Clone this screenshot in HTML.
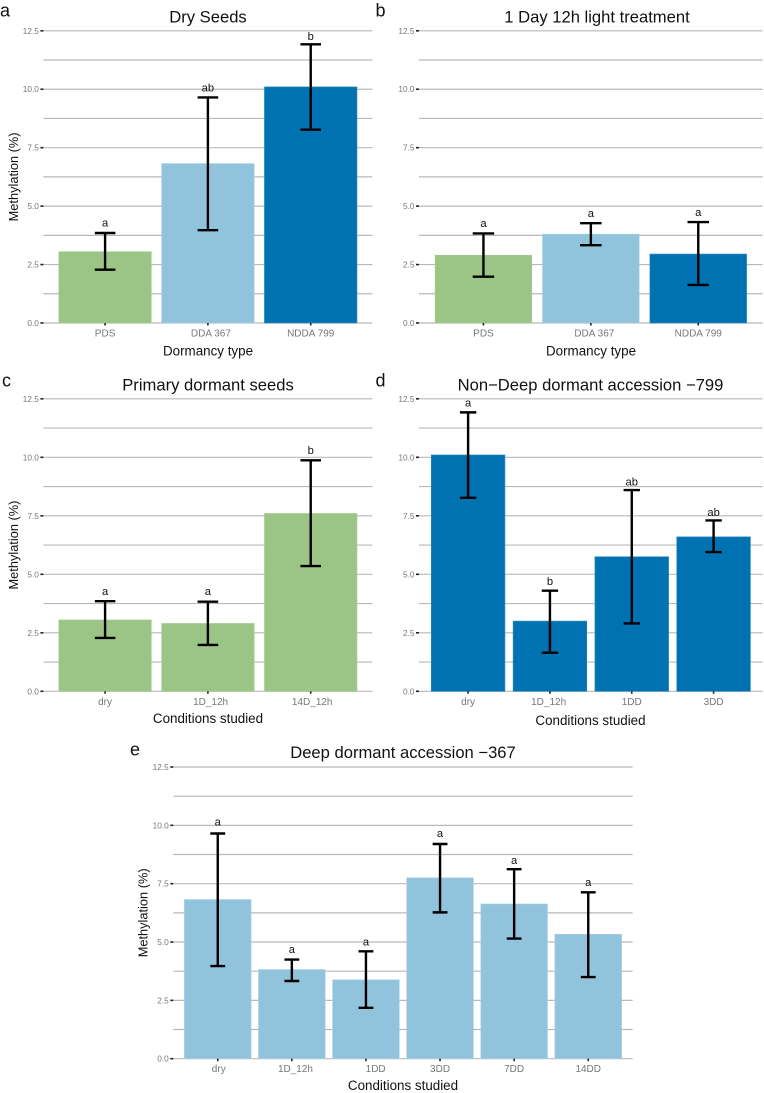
<!DOCTYPE html>
<html lang="en">
<head>
<meta charset="utf-8">
<title>Methylation by dormancy type and condition</title>
<style>
html,body{margin:0;padding:0;background:#fff;}
svg{display:block;font-family:"Liberation Sans",Arial,sans-serif;}
</style>
</head>
<body>
<svg id="figure" width="764" height="1093" viewBox="0 0 764 1093" xmlns="http://www.w3.org/2000/svg"></svg>
<script>
// Shared axis values
const yTickLabels = ["0.0", "2.5", "5.0", "7.5", "10.0", "12.5"];
const yTickValues = [0, 2.5, 5, 7.5, 10, 12.5];
const yGridValues = [0, 1.25, 2.5, 3.75, 5, 6.25, 7.5, 8.75, 10, 11.25, 12.5];

// Panel a
const aCategories = ["PDS", "DDA 367", "NDDA 799"];
const aValues = [3.05, 6.82, 10.1];
const aLow = [2.28, 3.97, 8.27];
const aHigh = [3.85, 9.65, 11.92];
const aLetters = ["a", "ab", "b"];
const aLetterLevels = [4.12, 9.9, 12.1];
const aGroups = ["pds", "dda", "ndda"];

// Panel b
const bCategories = ["PDS", "DDA 367", "NDDA 799"];
const bValues = [2.9, 3.8, 2.95];
const bLow = [1.98, 3.33, 1.63];
const bHigh = [3.83, 4.27, 4.32];
const bLetters = ["a", "a", "a"];
const bLetterLevels = [4.1, 4.53, 4.58];
const bGroups = ["pds", "dda", "ndda"];

// Panel c
const cCategories = ["dry", "1D_12h", "14D_12h"];
const cValues = [3.05, 2.9, 7.6];
const cLow = [2.28, 1.98, 5.35];
const cHigh = [3.85, 3.83, 9.87];
const cLetters = ["a", "a", "b"];
const cLetterLevels = [4.12, 4.12, 10.15];
const cGroups = ["pds", "pds", "pds"];

// Panel d
const dCategories = ["dry", "1D_12h", "1DD", "3DD"];
const dValues = [10.1, 3.0, 5.75, 6.6];
const dLow = [8.27, 1.65, 2.9, 5.95];
const dHigh = [11.92, 4.3, 8.6, 7.3];
const dLetters = ["a", "b", "ab", "ab"];
const dLetterLevels = [12.17, 4.55, 8.79, 7.5];
const dGroups = ["ndda", "ndda", "ndda", "ndda"];

// Panel e
const eCategories = ["dry", "1D_12h", "1DD", "3DD", "7DD", "14DD"];
const eValues = [6.82, 3.82, 3.38, 7.75, 6.63, 5.33];
const eLow = [3.97, 3.33, 2.18, 6.27, 5.15, 3.5];
const eHigh = [9.65, 4.25, 4.6, 9.2, 8.12, 7.13];
const eLetters = ["a", "a", "a", "a", "a", "a"];
const eLetterLevels = [10.0, 4.53, 4.85, 9.5, 8.35, 7.4];
const eGroups = ["dda", "dda", "dda", "dda", "dda", "dda"];

const groupColors = {pds: "#9BC585", dda: "#92C3DD", ndda: "#0072B2"};
const groupEdges = {pds: "#A9CE96", dda: "#A6D0E5", ndda: "#2A8AC0"};

const svgNS = "http://www.w3.org/2000/svg";
const figure = document.getElementById("figure");

function draw(parent, tag, props, text) {
  const node = document.createElementNS(svgNS, tag);
  for (const key in props) node.setAttribute(key, props[key]);
  if (text !== undefined) node.textContent = text;
  parent.appendChild(node);
  return node;
}

function renderPanel(cfg) {
  const group = draw(figure, "g", {});
  
  

  const n = cfg.categories.length;
  const yScale = v => cfg.y0 + (cfg.yTop - cfg.y0) * v / 12.5;
  const step = (cfg.right - cfg.left) / (n + 0.2);
  const xScale = i => cfg.left + step * (0.6 + i);
  const barWidth = step * 0.9;
  const capHalf = step * 0.1;

  const tag = draw(group, "text", {x: cfg.tagX, y: cfg.tagY, "font-size": 18, fill: "#111"}, cfg.id);
  
  

  const title = draw(group, "text", {x: cfg.titleX, y: cfg.titleY, "font-size": 16.6, fill: "#111", "text-anchor": "middle"}, cfg.title);
  
  

  yGridValues.forEach(function (v) {
    const line = draw(group, "line", {x1: cfg.left, x2: cfg.right, y1: yScale(v), y2: yScale(v), stroke: "#b9b9b9", "stroke-width": 1.2});
    
    
  });

  yTickValues.forEach(function (v, i) {
    const tick = draw(group, "line", {x1: cfg.left - 3, x2: cfg.left, y1: yScale(v), y2: yScale(v), stroke: "#222", "stroke-width": 1.6});
    
    
    const label = draw(group, "text", {x: cfg.left - 4.5, y: yScale(v) + 3, "font-size": 8.3, fill: "#777", "text-anchor": "end"}, yTickLabels[i]);
    
    
  });

  cfg.categories.forEach(function (cat, i) {
    const cx = xScale(i);
    const top = yScale(cfg.values[i]);
    const bar = draw(group, "rect", {x: cx - barWidth / 2, y: top, width: barWidth, height: cfg.y0 - top, fill: groupColors[cfg.groups[i]], stroke: groupEdges[cfg.groups[i]], "stroke-width": 0.6});
    
    
  });

  cfg.categories.forEach(function (cat, i) {
    const cx = xScale(i);
    const tick = draw(group, "line", {x1: cx, x2: cx, y1: cfg.y0, y2: cfg.y0 + 2.5, stroke: "#222", "stroke-width": 1.6});
    
    

    const label = draw(group, "text", {x: cx + (cfg.labelNudge[i] || 0), y: cfg.y0 + 13.5, "font-size": 10, fill: "#777", "text-anchor": "middle"}, cat);
    
    

    const yLow = yScale(cfg.low[i]);
    const yHigh = yScale(cfg.high[i]);
    const err = draw(group, "path", {
      d: "M" + (cx - capHalf) + " " + yHigh + "H" + (cx + capHalf) + "M" + cx + " " + yHigh + "V" + yLow + "M" + (cx - capHalf) + " " + yLow + "H" + (cx + capHalf),
      fill: "none", stroke: "#000", "stroke-width": 2.4
    });
    
    

    const letter = draw(group, "text", {x: cx, y: yScale(cfg.letterLevels[i]), "font-size": 11.2, fill: "#111", "text-anchor": "middle"}, cfg.letters[i]);
    
    
  });

  const xTitle = draw(group, "text", {x: cfg.xTitleX, y: cfg.xTitleY, "font-size": 13.4, fill: "#111", "text-anchor": "middle"}, cfg.xTitle);
  
  

  if (cfg.yTitleX) {
    const midY = (cfg.y0 + cfg.yTop) / 2;
    const yTitle = draw(group, "text", {x: cfg.yTitleX, y: midY, "font-size": 12.8, fill: "#111", "text-anchor": "middle", transform: "rotate(-90 " + cfg.yTitleX + " " + midY + ")"}, "Methylation (%)");
    
    
  }
}

renderPanel({id: "a", title: "Dry Seeds", xTitle: "Dormancy type", categories: aCategories, values: aValues, low: aLow, high: aHigh, letters: aLetters, letterLevels: aLetterLevels, groups: aGroups,
  left: 43.4, right: 372.4, y0: 323, yTop: 30.8, tagX: 0, tagY: 16.5, titleX: 208, titleY: 22.5, xTitleX: 208, xTitleY: 355.5, yTitleX: 18, labelNudge: [0, 3, 0]});
renderPanel({id: "b", title: "1 Day 12h light treatment", xTitle: "Dormancy type", categories: bCategories, values: bValues, low: bLow, high: bHigh, letters: bLetters, letterLevels: bLetterLevels, groups: bGroups,
  left: 419, right: 762.7, y0: 323, yTop: 30.8, tagX: 375.5, tagY: 16.5, titleX: 597, titleY: 22.5, xTitleX: 591, xTitleY: 355.5, yTitleX: 0, labelNudge: [0, 3.5, 0]});
renderPanel({id: "c", title: "Primary dormant seeds", xTitle: "Conditions studied", categories: cCategories, values: cValues, low: cLow, high: cHigh, letters: cLetters, letterLevels: cLetterLevels, groups: cGroups,
  left: 43.4, right: 372.4, y0: 691.3, yTop: 398.8, tagX: 2, tagY: 386.5, titleX: 208, titleY: 390.5, xTitleX: 208, xTitleY: 723, yTitleX: 18, labelNudge: [0, 2.7, 1.5]});
renderPanel({id: "d", title: "Non\u2212Deep dormant accession \u2212799", xTitle: "Conditions studied", categories: dCategories, values: dValues, low: dLow, high: dHigh, letters: dLetters, letterLevels: dLetterLevels, groups: dGroups,
  left: 419, right: 762.7, y0: 691.3, yTop: 398.8, tagX: 375.5, tagY: 386.5, titleX: 590.5, titleY: 390.5, xTitleX: 590.5, xTitleY: 725, yTitleX: 0, labelNudge: [0, -1.3, 0, 0]});
renderPanel({id: "e", title: "Deep dormant accession \u2212367", xTitle: "Conditions studied", categories: eCategories, values: eValues, low: eLow, high: eHigh, letters: eLetters, letterLevels: eLetterLevels, groups: eGroups,
  left: 173.3, right: 632.7, y0: 1058.7, yTop: 767, tagX: 130, tagY: 755.5, titleX: 403, titleY: 758, xTitleX: 403, xTitleY: 1090, yTitleX: 147.5, labelNudge: [1, 3.6, 9.7, 0, 0, 0]});
</script>
</body>
</html>
